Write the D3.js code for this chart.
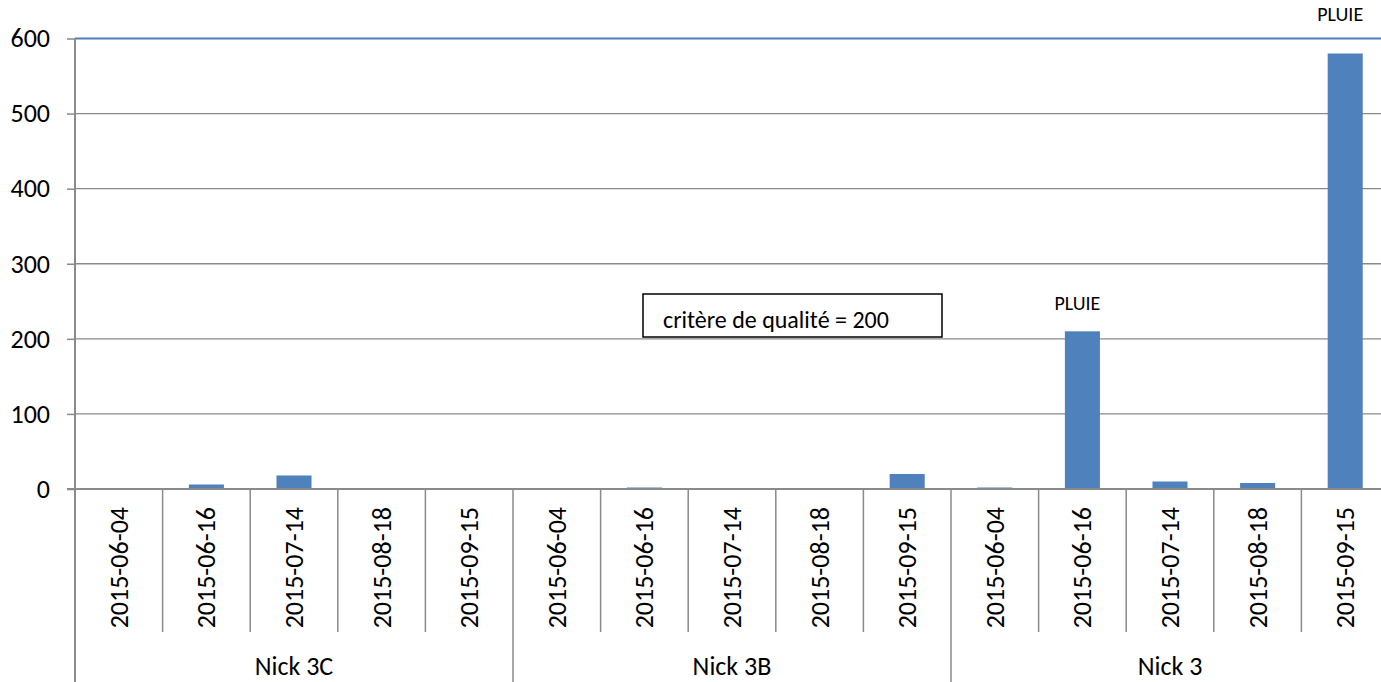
<!DOCTYPE html>
<html>
<head>
<meta charset="utf-8">
<script src="https://cdn.jsdelivr.net/npm/d3@7"></script>
<style>
  body { margin: 0; background: #fff; }
  svg { display: block; font-family: Calibri, Carlito, "Liberation Sans", Arial, sans-serif; }
</style>
</head>
<body>
<script>
// Data
const groups = ["Nick 3C", "Nick 3B", "Nick 3"];
const dates = ["2015-06-04", "2015-06-16", "2015-07-14", "2015-08-18", "2015-09-15"];
const values = [
  0, 6, 18, 0, 0,     // Nick 3C
  0, 2, 0, 0, 20,     // Nick 3B
  2, 210, 10, 8, 580  // Nick 3
];
const yTicks = [0, 100, 200, 300, 400, 500, 600];
const notes = [{ index: 11, text: "PLUIE" }, { index: 14, text: "PLUIE" }];
const boxText = "critère de qualité = 200";

let width = 1381, height = 682;
let margin = { top: 38.5, left: 75, right: -8, bottom: 193 };

// one row per bar
let rows = [];
groups.forEach((g, gi) => dates.forEach((d, di) => {
  rows.push({ group: g, date: d, value: values[gi * dates.length + di], i: gi * dates.length + di });
}));

let svg = d3.select('body')
  .append('svg')
  .attr('width', width)
  .attr('height', height);

let xScale = d3.scaleBand()
  .domain(rows.map(r => r.i))
  .range([margin.left, width - margin.right])
  .paddingInner(0.6)
  .paddingOuter(0.3);

let step = xScale.step();
let x0 = margin.left;
let yBase = height - margin.bottom;

let yScale = d3.scaleLinear()
  .domain([0, 600])
  .range([yBase, margin.top]);

// gridlines
svg.append('g')
  .selectAll('line')
  .data(yTicks)
  .enter()
  .append('line')
  .attr('x1', x0)
  .attr('x2', width)
  .attr('y1', d => yScale(d))
  .attr('y2', d => yScale(d))
  .attr('stroke', d => d === 600 ? '#4a7ebb' : '#8a8a8a')
  .attr('stroke-width', d => d === 600 ? 2 : 1.3);

// y axis
let yAxis = svg.append('g')
  .attr('transform', `translate(${x0}, 0)`)
  .call(d3.axisLeft(yScale).tickValues(yTicks).tickSize(8).tickPadding(17));

yAxis.select('.domain').remove();
yAxis.selectAll('line').attr('stroke', '#8a8a8a').attr('stroke-width', 1.5);
yAxis.selectAll('text')
  .style('font-size', '26px')
  .style('font-family', 'Calibri, Carlito, "Liberation Sans", Arial, sans-serif')
  .attr('fill', '#000');

// bars
svg.append('g')
  .selectAll('rect')
  .data(rows)
  .enter()
  .append('rect')
  .attr('x', d => xScale(d.i))
  .attr('width', xScale.bandwidth())
  .attr('y', d => yScale(d.value))
  .attr('height', d => yScale(0) - yScale(d.value))
  .attr('fill', '#4f81bd');

// category axis
svg.append('line')
  .attr('x1', x0 - 8).attr('x2', width)
  .attr('y1', yBase).attr('y2', yBase)
  .attr('stroke', '#8a8a8a').attr('stroke-width', 2);

svg.append('line')
  .attr('x1', x0).attr('x2', x0)
  .attr('y1', margin.top).attr('y2', height)
  .attr('stroke', '#8a8a8a').attr('stroke-width', 2);

// separators between categories (group boundaries run to the bottom)
let seps = d3.range(1, rows.length + 1);
svg.append('g')
  .selectAll('line')
  .data(seps)
  .enter()
  .append('line')
  .attr('x1', d => x0 + d * step)
  .attr('x2', d => x0 + d * step)
  .attr('y1', yBase)
  .attr('y2', d => d % dates.length === 0 ? height : 632)
  .attr('stroke', '#8a8a8a')
  .attr('stroke-width', 1.5);

// date labels
svg.append('g')
  .selectAll('text')
  .data(rows)
  .enter()
  .append('text')
  .attr('transform', d => `translate(${xScale(d.i) + xScale.bandwidth() / 2}, 507) rotate(-90)`)
  .attr('text-anchor', 'end')
  .attr('dominant-baseline', 'central')
  .style('font-size', '26px')
  .text(d => d.date);

// group labels
svg.append('g')
  .selectAll('text')
  .data(groups)
  .enter()
  .append('text')
  .attr('x', (d, i) => x0 + (i + 0.5) * dates.length * step)
  .attr('y', 675)
  .attr('text-anchor', 'middle')
  .style('font-size', '26px')
  .text(d => d);

// PLUIE notes above the rain-day bars
let noteLift = [21, 33];
svg.append('g')
  .selectAll('text')
  .data(notes)
  .enter()
  .append('text')
  .attr('x', d => xScale(d.index) + xScale.bandwidth() / 2 - 5)
  .attr('y', (d, k) => yScale(values[d.index]) - noteLift[k])
  .attr('text-anchor', 'middle')
  .style('font-size', '20px')
  .text(d => d.text);

// quality criterion box
let box = svg.append('g').attr('transform', 'translate(643, 294)');
box.append('rect')
  .attr('width', 299)
  .attr('height', 43)
  .attr('fill', '#fff')
  .attr('stroke', '#000')
  .attr('stroke-width', 1.5);
box.append('text')
  .attr('x', 20)
  .attr('y', 34)
  .style('font-size', '24px')
  .text(boxText);
</script>
</body>
</html>
